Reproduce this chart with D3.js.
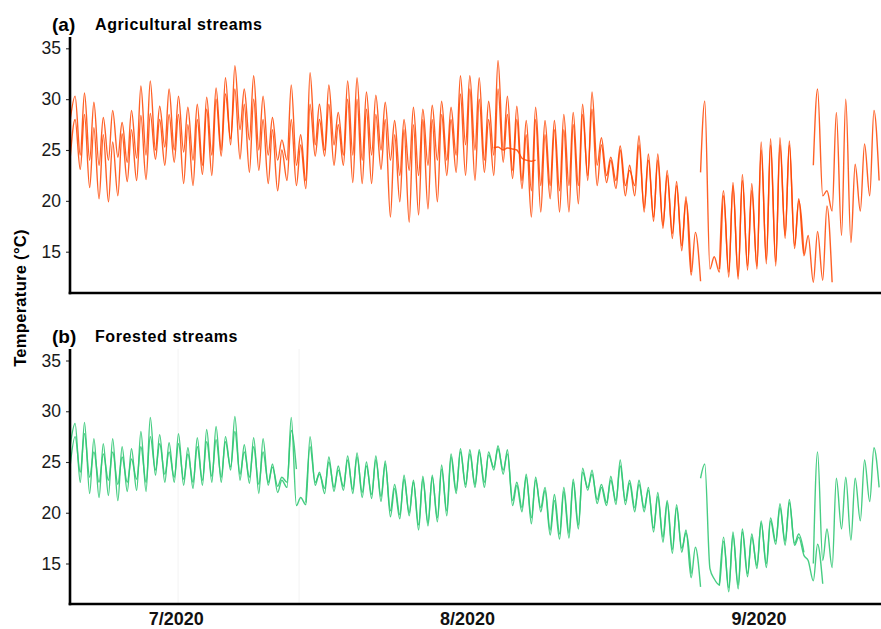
<!DOCTYPE html>
<html>
<head>
<meta charset="utf-8">
<script src="https://cdn.jsdelivr.net/npm/d3@7"></script>
<style>
  html, body { margin: 0; padding: 0; background: #fff; }
  svg { display: block; font-family: "Liberation Sans", Arial, sans-serif; }
</style>
</head>
<body>
<svg id="chart" width="881" height="629"></svg>
<script>
// ---------------- DATA (daily peak / following trough, °C) ----------------
// Day 0 = 20 Jun 2020; 86 days to 13 Sep 2020
const firstPeak = new Date(2020, 5, 20, 7);
const tickDates = [new Date(2020, 6, 1), new Date(2020, 7, 1), new Date(2020, 8, 1)];
const tickLabels = ["7/2020", "8/2020", "9/2020"];
const yTicks = [15, 20, 25, 30, 35];

// Agricultural streams
const agriAStart = 27.8;
const agriAMax = [30.3,30.6,29.7,28.2,28.9,27.7,28.9,31.3,31.8,29.3,
  31.0,30.3,29.2,29.5,30.2,31.1,32.1,33.3,31.0,32.3,
  30.3,28.2,26.0,31.4,26.5,32.6,29.5,31.4,28.7,31.8,
  32.1,30.7,30.4,29.7,27.9,28.0,29.2,29.0,29.4,29.8,
  29.2,32.3,32.3,32.1,29.8,33.8,30.3,29.3,27.9,29.2,
  27.9,27.9,28.5,28.7,29.5,30.7,26.2,24.3,25.4,23.0,
  26.4,24.6,24.6,23.0,21.9,20.4,16.9,null,null,21.0,
  21.8,22.6,21.7,25.8,26.1,26.2,25.9,20.2,16.6,17.0,
  19.5,null,null,null,null,null];
const agriAMin = [24.5,24.0,23.5,24.0,24.3,23.8,24.2,24.5,25.0,25.3,
  25.0,24.8,24.0,23.5,24.5,25.0,25.5,27.0,26.0,25.0,
  24.5,24.0,24.0,23.5,22.0,25.5,25.0,25.5,24.5,24.5,
  24.0,24.5,25.0,24.0,22.5,23.0,22.5,23.5,24.0,24.0,
  24.5,25.5,25.0,24.0,24.5,25.0,23.0,22.0,21.0,21.5,
  21.5,21.0,21.5,21.5,22.0,23.5,22.5,22.0,21.5,21.5,
  18.9,18.0,17.3,16.3,15.1,12.7,12.1,null,13.3,12.5,
  12.3,13.2,13.3,13.8,13.6,16.3,15.3,14.6,12.0,12.2,
  12.0,null,null,null,null,null];

const agriBStart = 24.0;
const agriBMax = [28.0,28.5,27.2,26.5,25.8,26.6,27.0,28.4,28.6,28.0,
  28.5,28.5,27.5,28.0,29.0,30.0,30.5,31.0,29.5,30.0,
  28.0,27.0,25.0,28.0,25.5,29.5,28.0,29.5,27.5,30.0,
  30.0,29.0,28.5,28.0,26.5,27.0,27.5,28.0,28.0,28.5,
  28.0,30.5,31.0,30.0,28.0,31.0,28.5,28.0,26.5,28.0,
  26.5,27.0,27.0,27.5,28.5,29.0,25.5,24.0,25.0,23.5,
  25.5,24.0,24.0,22.5,21.5,20.0,null,29.8,14.5,20.5,
  21.5,22.0,21.0,25.0,25.5,25.5,25.5,20.0,null,31.0,
  21.0,28.7,30.0,23.6,25.6,28.9];
const agriBMin = [23.1,21.3,20.2,19.9,20.5,21.9,22.0,22.1,24.1,23.5,
  23.8,21.7,21.5,22.6,22.5,24.4,26.1,24.1,22.8,23.0,
  21.7,21.0,22.0,21.5,21.2,24.4,24.4,23.5,23.5,21.8,
  21.7,21.7,23.1,18.4,19.9,17.9,18.6,19.2,19.9,22.5,
  22.8,22.5,22.0,22.8,22.5,23.8,22.2,21.2,18.4,18.9,
  20.2,18.9,18.9,19.7,22.5,21.5,21.8,21.2,20.5,20.5,
  19.3,18.4,17.6,16.8,15.6,13.0,22.8,13.3,13.0,13.0,
  12.6,13.6,13.6,14.2,14.0,16.6,15.6,14.8,23.5,20.5,
  19.0,16.6,15.9,19.0,20.5,22.0];

// short logger segment, 3-8 Aug (day 44 onwards)
const agriCFirstDay = 45;
const agriCStart = 25.2;
const agriCMax = [25.3,25.2,25.0,24.0,24.0];
const agriCMin = [25.0,25.1,24.2,23.9,null];

// Forested streams
const forAStart = 26.5;
const forAMax = [28.8,28.9,27.3,26.8,27.3,26.5,26.3,28.0,29.4,27.7,
  26.9,27.8,26.4,27.4,28.2,28.5,27.5,29.5,26.7,27.4,
  27.3,24.8,23.2,29.4,21.5,27.5,24.0,25.5,24.6,25.6,
  25.9,25.0,25.6,25.1,22.4,23.7,23.2,23.6,23.7,24.7,
  25.5,26.3,26.2,26.2,26.0,26.6,26.2,22.7,23.8,23.5,
  22.2,21.2,22.1,23.0,24.4,24.2,22.5,23.6,25.2,22.9,
  23.2,22.5,22.0,21.0,20.8,18.3,16.6,null,null,17.6,
  18.1,18.1,17.9,19.2,19.2,20.9,21.3,17.6,15.3,16.9,
  null,null,null,null,null,null];
const forAMin = [23.0,21.9,21.5,21.7,21.2,22.1,22.2,22.1,23.7,23.0,
  23.0,22.7,22.4,22.7,23.0,23.0,24.2,23.2,22.9,21.9,
  22.7,22.0,22.5,20.7,20.8,22.7,21.9,22.1,22.2,21.9,
  21.5,21.4,21.1,19.6,19.4,19.7,18.3,18.7,19.1,19.7,
  21.9,22.5,22.5,22.5,24.2,23.8,20.7,20.1,18.9,20.1,
  17.8,17.4,17.5,18.4,22.2,20.9,20.7,20.8,20.8,20.1,
  20.1,18.1,17.1,16.0,16.1,13.6,12.7,null,12.8,12.2,
  12.5,13.7,14.5,14.6,16.9,16.8,16.8,15.8,13.3,13.0,
  null,null,null,null,null,null];

const forBStart = 24.5;
const forBMax = [27.5,27.8,26.0,25.8,26.0,25.5,25.3,26.5,27.5,26.8,
  26.0,26.8,25.8,26.5,27.0,27.2,27.0,28.0,26.0,26.5,
  26.0,24.5,23.5,28.1,null,26.5,23.8,25.0,24.2,25.2,
  25.5,24.6,25.2,24.8,22.8,23.3,23.0,23.3,23.5,24.3,
  25.8,26.0,25.8,26.0,25.7,26.3,25.8,23.0,23.5,23.2,
  22.5,21.8,22.5,23.3,24.0,23.8,22.8,23.2,24.6,23.2,
  22.8,22.2,21.6,21.2,20.5,18.0,null,24.8,13.5,17.2,
  17.8,18.4,17.6,19.0,19.5,20.5,21.0,17.9,null,26.0,
  18.4,23.4,23.5,23.4,25.2,26.4];
const forBMin = [24.0,23.5,23.0,23.2,22.8,23.0,23.3,23.0,24.2,23.8,
  23.5,23.3,23.0,23.2,23.6,23.5,24.5,23.8,23.5,22.8,
  23.0,22.6,23.0,24.3,21.0,23.0,22.4,22.5,22.6,22.3,
  22.0,21.8,21.6,20.2,19.8,20.0,18.8,19.0,19.5,20.2,
  22.2,22.8,22.8,23.0,24.5,24.2,21.2,20.5,19.5,20.5,
  18.3,17.9,18.0,18.8,22.5,21.3,21.0,21.2,21.2,20.5,
  20.5,18.5,17.6,16.4,16.5,14.0,23.4,14.5,12.9,12.6,
  12.9,14.0,14.8,15.0,17.2,17.2,17.0,16.1,15.0,15.3,
  14.6,18.4,17.3,19.2,21.1,22.5];

// ---------------- CHART ----------------
const svg = d3.select("#chart");
const DAY = 864e5;
const x = d3.scaleTime()
  .domain([new Date(2020, 5, 19, 18), new Date(2020, 8, 14, 1)])
  .range([70, 881]);

function build(startVal, maxArr, minArr, firstDay) {
  const pts = [];
  const t0 = firstPeak.getTime() + firstDay * DAY;
  pts.push({ t: new Date(firstDay === 0 ? x.domain()[0].getTime() : t0 - 0.45 * DAY), v: startVal });
  for (let i = 0; i < maxArr.length; i++) {
    pts.push({ t: new Date(t0 + i * DAY), v: maxArr[i] });
    pts.push({ t: new Date(t0 + (i + 0.55) * DAY), v: minArr[i] });
  }
  return pts;
}

const panels = [
  { label: "(a)", title: "Agricultural streams", top: 37, bottom: 293, y25: 150, k: 10.17,
    color: "#FF4500", opacity: 0.85,
    series: [build(agriAStart, agriAMax, agriAMin, 0),
             build(agriBStart, agriBMax, agriBMin, 0),
             build(agriCStart, agriCMax, agriCMin, agriCFirstDay)],
    xlabels: false },
  { label: "(b)", title: "Forested streams", top: 349, bottom: 604, y25: 462, k: 10.15,
    color: "#33C876", opacity: 0.9,
    series: [build(forAStart, forAMax, forAMin, 0),
             build(forBStart, forBMax, forBMin, 0)],
    xlabels: true }
];

panels.forEach(p => {
  const y = d3.scaleLinear()
    .domain([25 - (p.bottom - p.y25) / p.k, 25 + (p.y25 - p.top) / p.k])
    .range([p.bottom, p.top]);
  const g = svg.append("g");

  if (p.xlabels) {
    // faint vertical guides present in the original
    [new Date(2020, 6, 1, 6), new Date(2020, 6, 14, 3)].forEach(d => {
      g.append("line").attr("x1", x(d)).attr("x2", x(d))
        .attr("y1", p.top).attr("y2", p.bottom)
        .attr("stroke", "#f3f3f3").attr("stroke-width", 1);
    });
  }

  const line = d3.line()
    .defined(d => d.v != null)
    .x(d => x(d.t)).y(d => y(d.v))
    .curve(d3.curveMonotoneX);
  p.series.forEach(s => {
    g.append("path").datum(s)
      .attr("d", line)
      .attr("fill", "none")
      .attr("stroke", p.color)
      .attr("stroke-opacity", p.opacity)
      .attr("stroke-width", 1.4)
      .attr("stroke-linejoin", "round");
  });

  // y axis
  const ya = g.append("g").attr("transform", "translate(70,0)")
    .call(d3.axisLeft(y).tickValues(yTicks).tickSize(4).tickPadding(5));
  ya.select(".domain").remove();
  ya.selectAll(".tick line").attr("stroke", "#333").attr("stroke-width", 1.1);
  ya.selectAll(".tick text").attr("font-size", 17.5).attr("fill", "#1a1a1a")
    .attr("font-family", "Liberation Sans, Arial, sans-serif");

  // x axis
  const xa = g.append("g").attr("transform", `translate(0,${p.bottom})`)
    .call(d3.axisBottom(x).tickValues(tickDates).tickSize(0).tickPadding(8)
      .tickFormat((d, i) => p.xlabels ? tickLabels[i] : ""));
  xa.select(".domain").remove();
  xa.selectAll(".tick text").attr("font-size", 18).attr("font-weight", "bold")
    .attr("fill", "#111").attr("font-family", "Liberation Sans, Arial, sans-serif");

  // axis lines
  g.append("line").attr("x1", 70).attr("x2", 70).attr("y1", p.top).attr("y2", p.bottom + 1.2)
    .attr("stroke", "#000").attr("stroke-width", 2.6);
  g.append("line").attr("x1", 68.7).attr("x2", 881).attr("y1", p.bottom).attr("y2", p.bottom)
    .attr("stroke", "#000").attr("stroke-width", 2.6);

  // titles
  g.append("text").attr("x", 52).attr("y", p.top - 6).text(p.label)
    .attr("font-size", 19).attr("font-weight", "bold").attr("fill", "#000");
  g.append("text").attr("x", 95).attr("y", p.top - 7).text(p.title)
    .attr("font-size", 16).attr("font-weight", "bold").attr("fill", "#000")
    .attr("letter-spacing", 0.6);
});

svg.append("text")
  .attr("transform", "translate(26,298) rotate(-90)")
  .attr("text-anchor", "middle")
  .attr("font-size", 16.5).attr("font-weight", "bold").attr("fill", "#000")
  .attr("letter-spacing", 0.3)
  .text("Temperature (°C)");
</script>
</body>
</html>
